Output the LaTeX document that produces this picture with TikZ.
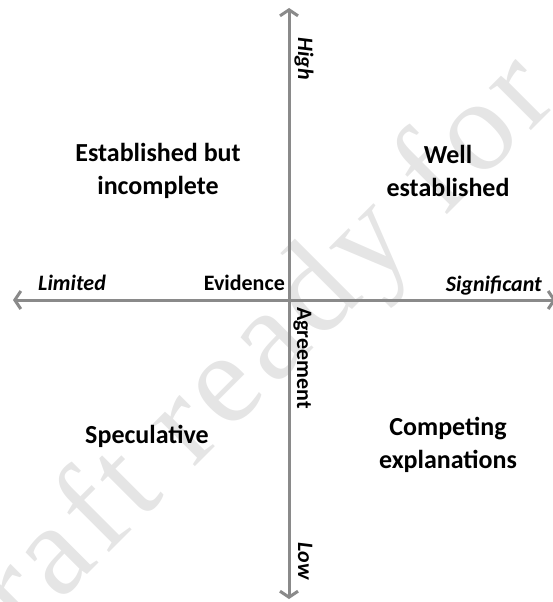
\documentclass[tikz,border=0pt]{standalone}
\usepackage{fontspec}
\setmainfont{Carlito}
\newfontfamily\markfont[LetterSpace=5]{Liberation Serif}
\usetikzlibrary{arrows.meta}

\definecolor{axisgray}{RGB}{138,138,138}
\tikzset{
	axis/.style={draw=axisgray, line width=3pt,
		{Straight Barb[length=6pt,width=18pt]}-{Straight Barb[length=6pt,width=18pt]}},
	quadrant/.style={font=\fontsize{26}{33}\selectfont\bfseries, align=center, inner sep=0pt},
	endlabel/.style={font=\fontsize{22}{26}\selectfont\bfseries\itshape, inner sep=0pt},
	axislabel/.style={font=\fontsize{22}{26}\selectfont\bfseries, inner sep=0pt},
	watermark/.style={font=\fontsize{130}{130}\selectfont\markfont, text=gray!20,
		rotate=45, inner sep=0pt, anchor=base}
}

\begin{document}
\begin{tikzpicture}[x=1pt,y=-1pt]
	\useasboundingbox (0,0) rectangle (552,602);
	% watermark behind everything
	\node[watermark] (mark) at (257,405) {Draft ready for};
	% axes
	\coordinate (west) at (13,300);
	\coordinate (east) at (556,300);
	\coordinate (north) at (289,8);
	\coordinate (south) at (289,599);
	\draw[axis] (west) -- (east);
	\draw[axis] (south) -- (north);
	% axis labels
	\node[endlabel, anchor=base west] (limited) at (38,290) {Limited};
	\node[axislabel, anchor=base east] (evidence) at (285,290) {Evidence};
	\node[endlabel, anchor=base east] (significant) at (542,291) {Significant};
	\node[endlabel, rotate=-90, anchor=base west] (high) at (298,37) {High};
	\node[axislabel, rotate=-90, anchor=base west] (agreement) at (297,307) {Agreement};
	\node[endlabel, rotate=-90, anchor=base west] (low) at (298,542) {Low};
	% quadrants
	\node[quadrant] (established) at (158,171) {Established but\\incomplete};
	\node[quadrant] (well) at (448,171) {Well\\established};
	\node[quadrant, anchor=base] (speculative) at (147,443) {Speculative};
	\node[quadrant] (competing) at (448,445) {Competing\\explanations};
\end{tikzpicture}
\end{document}
